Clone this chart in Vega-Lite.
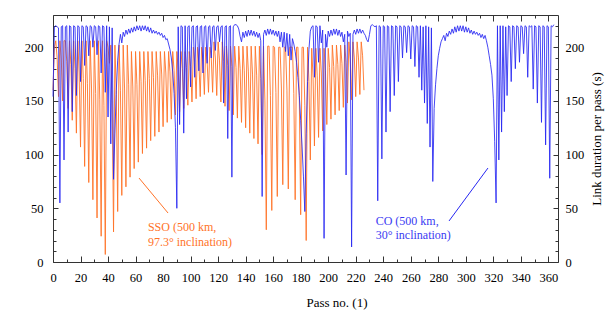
{
 "$schema": "https://vega.github.io/schema/vega-lite/v6.json",
 "width": 505, "height": 247,
 "autosize": {"type": "none"},
 "padding": {"left": 53, "top": 15, "right": 56, "bottom": 54},
 "background": "white",
 "config": {"view": {"stroke": null}, "font": "Liberation Serif"},
 "datasets": {
  "sso": [
{"p":0,"v":160},{"p":1,"v":200},{"p":2,"v":206},{"p":3,"v":190},{"p":4,"v":154},{"p":5,"v":206},{"p":6,"v":189},{"p":7,"v":150},{"p":8,"v":206},{"p":9,"v":206},
{"p":10,"v":187},{"p":11,"v":143},{"p":12,"v":206},{"p":13,"v":184},{"p":14,"v":132},{"p":15,"v":206},{"p":16,"v":180},{"p":17,"v":120},{"p":18,"v":206},{"p":19,"v":176},
{"p":20,"v":107},{"p":21,"v":206},{"p":22,"v":171},{"p":23,"v":89},{"p":24,"v":206},{"p":25,"v":166},{"p":26,"v":74},{"p":27,"v":206},{"p":28,"v":162},{"p":29,"v":58},
{"p":30,"v":206},{"p":31,"v":157},{"p":32,"v":41},{"p":33,"v":206},{"p":34,"v":151},{"p":35,"v":24},{"p":36,"v":206},{"p":37,"v":146},{"p":38,"v":7},{"p":39,"v":206},
{"p":40,"v":200},{"p":41,"v":185},{"p":42,"v":202},{"p":43,"v":150},{"p":44,"v":28},{"p":45,"v":202},{"p":46,"v":156},{"p":47,"v":47},{"p":48,"v":202},{"p":49,"v":160},
{"p":50,"v":62},{"p":51,"v":202},{"p":52,"v":162},{"p":53,"v":70},{"p":54,"v":202},{"p":55,"v":165},{"p":56,"v":79},{"p":57,"v":196},{"p":58,"v":163},{"p":59,"v":87},
{"p":60,"v":196},{"p":61,"v":165},{"p":62,"v":93},{"p":63,"v":196},{"p":64,"v":168},{"p":65,"v":101},{"p":66,"v":196},{"p":67,"v":169},{"p":68,"v":106},{"p":69,"v":196},
{"p":70,"v":171},{"p":71,"v":113},{"p":72,"v":196},{"p":73,"v":172},{"p":74,"v":117},{"p":75,"v":196},{"p":76,"v":174},{"p":77,"v":121},{"p":78,"v":196},{"p":79,"v":175},
{"p":80,"v":126},{"p":81,"v":196},{"p":82,"v":176},{"p":83,"v":130},{"p":84,"v":196},{"p":85,"v":177},{"p":86,"v":133},{"p":87,"v":196},{"p":88,"v":178},{"p":89,"v":137},
{"p":90,"v":196},{"p":91,"v":179},{"p":92,"v":140},{"p":93,"v":196},{"p":94,"v":180},{"p":95,"v":143},{"p":96,"v":196},{"p":97,"v":181},{"p":98,"v":146},{"p":99,"v":196},
{"p":100,"v":182},{"p":101,"v":149},{"p":102,"v":200},{"p":103,"v":186},{"p":104,"v":152},{"p":105,"v":200},{"p":106,"v":186},{"p":107,"v":154},{"p":108,"v":200},{"p":109,"v":187},
{"p":110,"v":156},{"p":111,"v":200},{"p":112,"v":187},{"p":113,"v":158},{"p":114,"v":200},{"p":115,"v":191},{"p":116,"v":158},{"p":117,"v":205},{"p":118,"v":190},{"p":119,"v":155},
{"p":120,"v":205},{"p":121,"v":188},{"p":122,"v":149},{"p":123,"v":205},{"p":124,"v":187},{"p":125,"v":145},{"p":126,"v":201},{"p":127,"v":183},{"p":128,"v":141},{"p":129,"v":201},
{"p":130,"v":182},{"p":131,"v":137},{"p":132,"v":201},{"p":133,"v":181},{"p":134,"v":134},{"p":135,"v":201},{"p":136,"v":180},{"p":137,"v":130},{"p":138,"v":201},{"p":139,"v":178},
{"p":140,"v":125},{"p":141,"v":201},{"p":142,"v":177},{"p":143,"v":120},{"p":144,"v":201},{"p":145,"v":175},{"p":146,"v":115},{"p":147,"v":201},{"p":148,"v":174},{"p":149,"v":110},
{"p":150,"v":201},{"p":151,"v":171},{"p":152,"v":100},{"p":153,"v":201},{"p":154,"v":150},{"p":155,"v":30},{"p":156,"v":201},{"p":157,"v":201},{"p":158,"v":155},{"p":159,"v":48},
{"p":160,"v":201},{"p":161,"v":200},{"p":162,"v":158},{"p":163,"v":61},{"p":164,"v":200},{"p":165,"v":200},{"p":166,"v":162},{"p":167,"v":72},{"p":168,"v":200},{"p":169,"v":200},
{"p":170,"v":160},{"p":171,"v":68},{"p":172,"v":200},{"p":173,"v":200},{"p":174,"v":200},{"p":175,"v":157},{"p":176,"v":58},{"p":177,"v":200},{"p":178,"v":200},{"p":179,"v":153},
{"p":180,"v":44},{"p":181,"v":200},{"p":182,"v":200},{"p":183,"v":146},{"p":184,"v":20},{"p":185,"v":200},{"p":186,"v":168},{"p":187,"v":95},{"p":188,"v":199},{"p":189,"v":172},
{"p":190,"v":108},{"p":191,"v":199},{"p":192,"v":174},{"p":193,"v":116},{"p":194,"v":199},{"p":195,"v":176},{"p":196,"v":122},{"p":197,"v":199},{"p":198,"v":178},{"p":199,"v":128},
{"p":200,"v":199},{"p":201,"v":181},{"p":202,"v":133},{"p":203,"v":202},{"p":204,"v":182},{"p":205,"v":137},{"p":206,"v":202},{"p":207,"v":184},{"p":208,"v":141},{"p":209,"v":202},
{"p":210,"v":185},{"p":211,"v":144},{"p":212,"v":202},{"p":213,"v":186},{"p":214,"v":148},{"p":215,"v":205},{"p":216,"v":189},{"p":217,"v":151},{"p":218,"v":205},{"p":219,"v":190},
{"p":220,"v":154},{"p":221,"v":205},{"p":222,"v":190},{"p":223,"v":156},{"p":224,"v":205},{"p":225,"v":192},{"p":226,"v":160}
  ],
  "co": [
{"p":0,"v":154},{"p":1,"v":219},{"p":2,"v":220},{"p":3,"v":219},{"p":4,"v":218},{"p":5,"v":55},{"p":6,"v":219},{"p":7,"v":220},{"p":8,"v":95},{"p":9,"v":219},
{"p":10,"v":220},{"p":11,"v":121},{"p":12,"v":220},{"p":13,"v":219},{"p":14,"v":140},{"p":15,"v":220},{"p":16,"v":219},{"p":17,"v":155},{"p":18,"v":220},{"p":19,"v":219},
{"p":20,"v":168},{"p":21,"v":220},{"p":22,"v":219},{"p":23,"v":183},{"p":24,"v":220},{"p":25,"v":219},{"p":26,"v":192},{"p":27,"v":220},{"p":28,"v":219},{"p":29,"v":200},
{"p":30,"v":220},{"p":31,"v":219},{"p":32,"v":193},{"p":33,"v":220},{"p":34,"v":219},{"p":35,"v":176},{"p":36,"v":220},{"p":37,"v":219},{"p":38,"v":158},{"p":39,"v":220},
{"p":40,"v":135},{"p":41,"v":219},{"p":42,"v":110},{"p":43,"v":218},{"p":44,"v":77},{"p":45,"v":120},{"p":46,"v":160},{"p":47,"v":188},{"p":48,"v":203},{"p":49,"v":212},
{"p":50,"v":204},{"p":51,"v":214},{"p":52,"v":210},{"p":53,"v":216},{"p":54,"v":212},{"p":55,"v":217},{"p":56,"v":213},{"p":57,"v":218},{"p":58,"v":214},{"p":59,"v":219},
{"p":60,"v":215},{"p":61,"v":220},{"p":62,"v":216},{"p":63,"v":220},{"p":64,"v":215},{"p":65,"v":220},{"p":66,"v":216},{"p":67,"v":220},{"p":68,"v":215},{"p":69,"v":219},
{"p":70,"v":214},{"p":71,"v":218},{"p":72,"v":213},{"p":73,"v":216},{"p":74,"v":213},{"p":75,"v":215},{"p":76,"v":212},{"p":77,"v":214},{"p":78,"v":211},{"p":79,"v":213},
{"p":80,"v":209},{"p":81,"v":211},{"p":82,"v":207},{"p":83,"v":208},{"p":84,"v":203},{"p":85,"v":198},{"p":86,"v":190},{"p":87,"v":177},{"p":88,"v":157},{"p":89,"v":125},
{"p":90,"v":50},{"p":91,"v":219},{"p":92,"v":128},{"p":93,"v":220},{"p":94,"v":219},{"p":95,"v":120},{"p":96,"v":220},{"p":97,"v":152},{"p":98,"v":219},{"p":99,"v":220},
{"p":100,"v":163},{"p":101,"v":219},{"p":102,"v":220},{"p":103,"v":172},{"p":104,"v":219},{"p":105,"v":220},{"p":106,"v":178},{"p":107,"v":219},{"p":108,"v":220},{"p":109,"v":176},
{"p":110,"v":219},{"p":111,"v":220},{"p":112,"v":185},{"p":113,"v":219},{"p":114,"v":220},{"p":115,"v":190},{"p":116,"v":219},{"p":117,"v":220},{"p":118,"v":197},{"p":119,"v":219},
{"p":120,"v":220},{"p":121,"v":205},{"p":122,"v":219},{"p":123,"v":220},{"p":124,"v":148},{"p":125,"v":219},{"p":126,"v":220},{"p":127,"v":115},{"p":128,"v":219},{"p":129,"v":220},
{"p":130,"v":79},{"p":131,"v":219},{"p":132,"v":221},{"p":133,"v":221},{"p":134,"v":220},{"p":135,"v":217},{"p":136,"v":210},{"p":137,"v":205},{"p":138,"v":214},{"p":139,"v":209},
{"p":140,"v":215},{"p":141,"v":210},{"p":142,"v":216},{"p":143,"v":211},{"p":144,"v":216},{"p":145,"v":211},{"p":146,"v":215},{"p":147,"v":210},{"p":148,"v":214},{"p":149,"v":209},
{"p":150,"v":213},{"p":151,"v":206},{"p":152,"v":61},{"p":153,"v":212},{"p":154,"v":216},{"p":155,"v":211},{"p":156,"v":217},{"p":157,"v":212},{"p":158,"v":217},{"p":159,"v":212},
{"p":160,"v":216},{"p":161,"v":211},{"p":162,"v":215},{"p":163,"v":210},{"p":164,"v":215},{"p":165,"v":205},{"p":166,"v":214},{"p":167,"v":200},{"p":168,"v":214},{"p":169,"v":196},
{"p":170,"v":213},{"p":171,"v":192},{"p":172,"v":212},{"p":173,"v":188},{"p":174,"v":208},{"p":175,"v":203},{"p":176,"v":196},{"p":177,"v":186},{"p":178,"v":172},{"p":179,"v":155},
{"p":180,"v":132},{"p":181,"v":108},{"p":182,"v":80},{"p":183,"v":47},{"p":184,"v":120},{"p":185,"v":168},{"p":186,"v":198},{"p":187,"v":215},{"p":188,"v":219},{"p":189,"v":220},
{"p":190,"v":172},{"p":191,"v":220},{"p":192,"v":219},{"p":193,"v":186},{"p":194,"v":220},{"p":195,"v":204},{"p":196,"v":216},{"p":197,"v":22},{"p":198,"v":212},{"p":199,"v":200},
{"p":200,"v":215},{"p":201,"v":210},{"p":202,"v":216},{"p":203,"v":211},{"p":204,"v":217},{"p":205,"v":212},{"p":206,"v":217},{"p":207,"v":211},{"p":208,"v":216},{"p":209,"v":210},
{"p":210,"v":214},{"p":211,"v":205},{"p":212,"v":212},{"p":213,"v":81},{"p":214,"v":215},{"p":215,"v":210},{"p":216,"v":213},{"p":217,"v":14},{"p":218,"v":212},{"p":219,"v":216},
{"p":220,"v":212},{"p":221,"v":217},{"p":222,"v":213},{"p":223,"v":217},{"p":224,"v":213},{"p":225,"v":216},{"p":226,"v":213},{"p":227,"v":211},{"p":228,"v":207},{"p":229,"v":205},
{"p":230,"v":212},{"p":231,"v":220},{"p":232,"v":221},{"p":233,"v":220},{"p":234,"v":219},{"p":235,"v":220},{"p":236,"v":57},{"p":237,"v":220},{"p":238,"v":219},{"p":239,"v":96},
{"p":240,"v":220},{"p":241,"v":219},{"p":242,"v":121},{"p":243,"v":220},{"p":244,"v":219},{"p":245,"v":140},{"p":246,"v":220},{"p":247,"v":219},{"p":248,"v":155},{"p":249,"v":220},
{"p":250,"v":219},{"p":251,"v":168},{"p":252,"v":220},{"p":253,"v":219},{"p":254,"v":190},{"p":255,"v":220},{"p":256,"v":219},{"p":257,"v":195},{"p":258,"v":220},{"p":259,"v":219},
{"p":260,"v":189},{"p":261,"v":220},{"p":262,"v":219},{"p":263,"v":182},{"p":264,"v":220},{"p":265,"v":219},{"p":266,"v":172},{"p":267,"v":220},{"p":268,"v":160},{"p":269,"v":219},
{"p":270,"v":148},{"p":271,"v":220},{"p":272,"v":129},{"p":273,"v":219},{"p":274,"v":107},{"p":275,"v":218},{"p":276,"v":75},{"p":277,"v":143},{"p":278,"v":165},{"p":279,"v":180},
{"p":280,"v":192},{"p":281,"v":199},{"p":282,"v":205},{"p":283,"v":208},{"p":284,"v":211},{"p":285,"v":206},{"p":286,"v":213},{"p":287,"v":210},{"p":288,"v":215},{"p":289,"v":212},
{"p":290,"v":217},{"p":291,"v":213},{"p":292,"v":219},{"p":293,"v":214},{"p":294,"v":220},{"p":295,"v":215},{"p":296,"v":220},{"p":297,"v":215},{"p":298,"v":220},{"p":299,"v":214},
{"p":300,"v":219},{"p":301,"v":214},{"p":302,"v":218},{"p":303,"v":213},{"p":304,"v":216},{"p":305,"v":212},{"p":306,"v":215},{"p":307,"v":212},{"p":308,"v":214},{"p":309,"v":211},
{"p":310,"v":213},{"p":311,"v":209},{"p":312,"v":212},{"p":313,"v":208},{"p":314,"v":211},{"p":315,"v":206},{"p":316,"v":200},{"p":317,"v":192},{"p":318,"v":184},{"p":319,"v":174},
{"p":320,"v":152},{"p":321,"v":112},{"p":322,"v":55},{"p":323,"v":220},{"p":324,"v":95},{"p":325,"v":220},{"p":326,"v":121},{"p":327,"v":220},{"p":328,"v":140},{"p":329,"v":219},
{"p":330,"v":155},{"p":331,"v":220},{"p":332,"v":219},{"p":333,"v":168},{"p":334,"v":220},{"p":335,"v":219},{"p":336,"v":180},{"p":337,"v":220},{"p":338,"v":219},{"p":339,"v":186},
{"p":340,"v":220},{"p":341,"v":219},{"p":342,"v":194},{"p":343,"v":220},{"p":344,"v":219},{"p":345,"v":172},{"p":346,"v":220},{"p":347,"v":219},{"p":348,"v":220},{"p":349,"v":161},
{"p":350,"v":220},{"p":351,"v":219},{"p":352,"v":148},{"p":353,"v":220},{"p":354,"v":219},{"p":355,"v":130},{"p":356,"v":220},{"p":357,"v":219},{"p":358,"v":109},{"p":359,"v":220},
{"p":360,"v":219},{"p":361,"v":78},{"p":362,"v":220},{"p":363,"v":219},{"p":364,"v":221}
  ]
 },
 "layer": [
  {
   "data": {"name": "sso"},
   "mark": {"type": "line", "color": "#ff7328", "strokeWidth": 1, "opacity": 0.9},
   "encoding": {
    "x": {"field": "p", "type": "quantitative", "scale": {"domain": [0, 367], "nice": false, "zero": false},
     "axis": {"orient": "bottom", "grid": false,
      "values": [0,10,20,30,40,50,60,70,80,90,100,110,120,130,140,150,160,170,180,190,200,210,220,230,240,250,260,270,280,290,300,310,320,330,340,350,360],
      "labelExpr": "datum.value % 20 === 0 ? datum.label : ''",
      "tickSize": {"condition": {"test": "datum.value % 20 === 0", "value": -6}, "value": -3},
      "labelPadding": 15, "labelFlush": false, "labelOverlap": false,
      "labelFont": "Liberation Serif", "labelFontSize": 12.5, "labelColor": "#000",
      "domainColor": "#333", "tickColor": "#333",
      "title": "Pass no. (1)", "titleFont": "Liberation Serif", "titleFontSize": 13, "titleFontWeight": "normal", "titleColor": "#000",
      "titleX": 283.5, "titleY": 40, "titleAlign": "center", "titleBaseline": "middle", "titleAnchor": null}},
    "y": {"field": "v", "type": "quantitative", "scale": {"domain": [0, 230], "nice": false},
     "axis": {"orient": "left", "grid": false,
      "values": [0,10,20,30,40,50,60,70,80,90,100,110,120,130,140,150,160,170,180,190,200,210,220],
      "labelExpr": "datum.value % 50 === 0 ? datum.label : ''",
      "tickSize": {"condition": {"test": "datum.value % 50 === 0", "value": -5}, "value": -3},
      "labelPadding": 15, "labelFlush": false, "labelOverlap": false,
      "labelFont": "Liberation Serif", "labelFontSize": 12.5, "labelColor": "#000",
      "domainColor": "#333", "tickColor": "#333", "title": null}}
   }
  },
  {
   "data": {"name": "co"},
   "mark": {"type": "line", "color": "#2626f2", "strokeWidth": 1, "opacity": 0.85},
   "encoding": {
    "x": {"field": "p", "type": "quantitative",
     "axis": {"orient": "top", "grid": false, "labels": false, "title": null,
      "values": [0,10,20,30,40,50,60,70,80,90,100,110,120,130,140,150,160,170,180,190,200,210,220,230,240,250,260,270,280,290,300,310,320,330,340,350,360],
      "tickSize": {"condition": {"test": "datum.value % 20 === 0", "value": -6}, "value": -3},
      "domainColor": "#333", "tickColor": "#333"}},
    "y": {"field": "v", "type": "quantitative",
     "axis": {"orient": "right", "grid": false,
      "values": [0,10,20,30,40,50,60,70,80,90,100,110,120,130,140,150,160,170,180,190,200,210,220],
      "labelExpr": "datum.value % 50 === 0 ? datum.label : ''",
      "tickSize": {"condition": {"test": "datum.value % 50 === 0", "value": -5}, "value": -3},
      "labelPadding": 12, "labelFlush": false, "labelOverlap": false,
      "labelFont": "Liberation Serif", "labelFontSize": 12.5, "labelColor": "#000",
      "domainColor": "#333", "tickColor": "#333",
      "title": "Link duration per pass (s)", "titleFont": "Liberation Serif", "titleFontSize": 13, "titleFontWeight": "normal", "titleColor": "#000",
      "titleAngle": 270, "titleX": 38, "titleY": 123.5, "titleAlign": "center", "titleBaseline": "middle", "titleAnchor": null}}
   }
  },
  {
   "data": {"values": [{"x": 69, "y": 32.6, "t": "SSO (500 km,"}, {"x": 69, "y": 18.6, "t": "97.3° inclination)"}]},
   "mark": {"type": "text", "color": "#ff7328", "font": "Liberation Serif", "fontSize": 12, "align": "left", "baseline": "middle"},
   "encoding": {"x": {"field": "x", "type": "quantitative", "axis": null}, "y": {"field": "y", "type": "quantitative", "axis": null}, "text": {"field": "t"}}
  },
  {
   "data": {"values": [{"x": 234.5, "y": 38.6, "t": "CO (500 km,"}, {"x": 234.5, "y": 25.1, "t": "30° inclination)"}]},
   "mark": {"type": "text", "color": "#3a3af2", "font": "Liberation Serif", "fontSize": 12, "align": "left", "baseline": "middle"},
   "encoding": {"x": {"field": "x", "type": "quantitative", "axis": null}, "y": {"field": "y", "type": "quantitative", "axis": null}, "text": {"field": "t"}}
  },
  {
   "data": {"values": [{"x": 62.5, "y": 78.2, "x2": 83.6, "y2": 45.6}]},
   "mark": {"type": "rule", "color": "#ff7328", "strokeWidth": 1},
   "encoding": {"x": {"field": "x", "type": "quantitative", "axis": null}, "y": {"field": "y", "type": "quantitative", "axis": null}, "x2": {"field": "x2"}, "y2": {"field": "y2"}}
  },
  {
   "data": {"values": [{"x": 287.8, "y": 38.2, "x2": 316.1, "y2": 87.5}]},
   "mark": {"type": "rule", "color": "#2626f2", "strokeWidth": 1},
   "encoding": {"x": {"field": "x", "type": "quantitative", "axis": null}, "y": {"field": "y", "type": "quantitative", "axis": null}, "x2": {"field": "x2"}, "y2": {"field": "y2"}}
  }
 ],
 "resolve": {"axis": {"x": "independent", "y": "independent"}}
}
